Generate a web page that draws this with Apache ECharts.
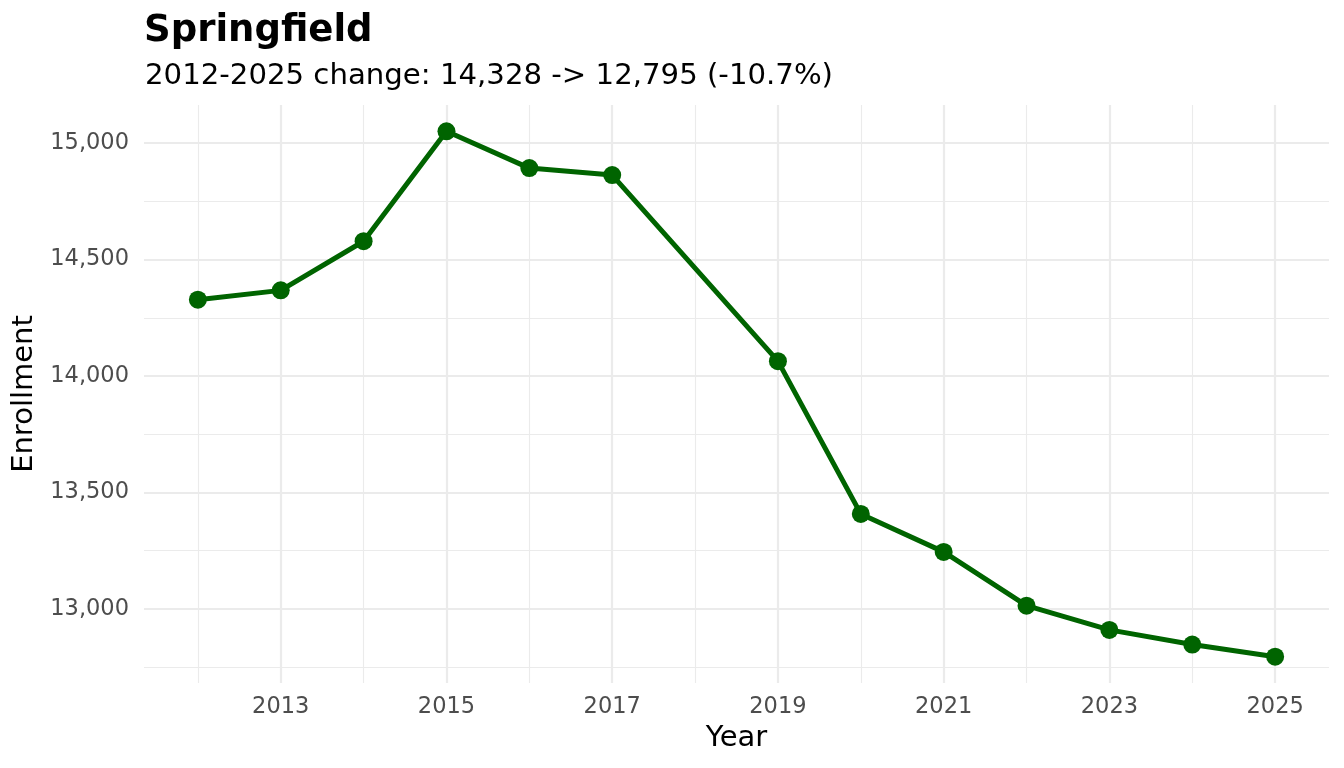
<!DOCTYPE html>
<html>
<head>
<meta charset="utf-8">
<script src="https://cdn.jsdelivr.net/npm/echarts@6/dist/echarts.min.js"></script>
<style>
html,body{margin:0;padding:0;background:#fff;}
#chart{width:1344px;height:768px;}
</style>
</head>
<body>
<div id="chart"></div>
<script>
const years = [2012, 2013, 2014, 2015, 2016, 2017, 2019, 2020, 2021, 2022, 2023, 2024, 2025];
const enrollment = [14328, 14368, 14579, 15051, 14893, 14863, 14064, 13408, 13245, 13014, 12910, 12847, 12795];
const xMajorTicks = [2013, 2015, 2017, 2019, 2021, 2023, 2025];
const xMinorTicks = [2012, 2014, 2016, 2018, 2020, 2022, 2024];
const yMajorTicks = [13000, 13500, 14000, 14500, 15000];
const yMinorTicks = [12750, 13250, 13750, 14250, 14750];
const titleText = 'Springfield';
const subtitleText = '2012-2025 change: 14,328 -> 12,795 (-10.7%)';

const FONT = 'DejaVu Sans';
const GRID_COLOR = '#EBEBEB';
const xMin = 2011.35, xMax = 2025.65;
const yMin = 12682, yMax = 15164;

const chart = echarts.init(document.getElementById('chart'), null, {renderer: 'canvas'});
chart.setOption({
  backgroundColor: '#ffffff',
  animation: false,
  title: [
    {text: titleText, left: 139, top: 8,
     textStyle: {fontFamily: FONT, fontSize: 37, fontWeight: 'bold', color: '#000'}},
    {text: subtitleText, left: 140, top: 57,
     textStyle: {fontFamily: FONT, fontSize: 29.2, fontWeight: 'normal', color: '#000'}}
  ],
  grid: {left: 144, right: 15, top: 105, bottom: 85, containLabel: false},
  xAxis: [
    {
      type: 'value', min: xMin, max: xMax,
      name: 'Year', nameLocation: 'middle', nameGap: 41,
      nameTextStyle: {fontFamily: FONT, fontSize: 29, color: '#000'},
      axisLine: {show: false},
      axisTick: {show: false, customValues: xMajorTicks},
      axisLabel: {customValues: xMajorTicks, formatter: v => String(v), margin: 13,
                  fontFamily: FONT, fontSize: 22.5, color: '#4D4D4D'},
      splitLine: {show: true, lineStyle: {color: GRID_COLOR, width: 2.2}}
    },
    {
      type: 'value', min: xMin, max: xMax, position: 'bottom',
      axisLine: {show: false},
      axisTick: {show: false, customValues: xMinorTicks},
      axisLabel: {show: false},
      splitLine: {show: true, lineStyle: {color: GRID_COLOR, width: 1.1}}
    }
  ],
  yAxis: [
    {
      type: 'value', min: yMin, max: yMax,
      name: 'Enrollment', nameLocation: 'middle', nameGap: 104, nameRotate: 90,
      nameTextStyle: {fontFamily: FONT, fontSize: 29, color: '#000'},
      axisLine: {show: false},
      axisTick: {show: false, customValues: yMajorTicks},
      axisLabel: {customValues: yMajorTicks, formatter: v => v.toLocaleString('en-US'), margin: 15,
                  padding: [4, 0, 0, 0],
                  fontFamily: FONT, fontSize: 22.5, color: '#4D4D4D'},
      splitLine: {show: true, lineStyle: {color: GRID_COLOR, width: 2.2}}
    },
    {
      type: 'value', min: yMin, max: yMax, position: 'left',
      axisLine: {show: false},
      axisTick: {show: false, customValues: yMinorTicks},
      axisLabel: {show: false},
      splitLine: {show: true, lineStyle: {color: GRID_COLOR, width: 1.1}}
    }
  ],
  series: [{
    type: 'line',
    xAxisIndex: 0, yAxisIndex: 0,
    data: years.map((y, i) => [y, enrollment[i]]),
    lineStyle: {color: '#006400', width: 5},
    itemStyle: {color: '#006400'},
    symbol: 'circle', symbolSize: 18,
    showSymbol: true,
    z: 5
  }]
});
</script>
</body>
</html>
